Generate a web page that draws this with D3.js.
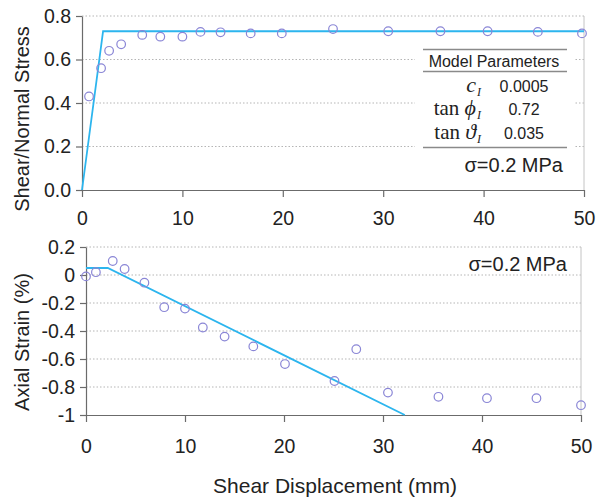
<!DOCTYPE html>
<html>
<head>
<meta charset="utf-8">
<script src="https://cdn.jsdelivr.net/npm/d3@7/dist/d3.min.js"></script>
<style>
  html, body { margin: 0; padding: 0; background: #fff; }
  svg { display: block; font-family: "Liberation Sans", Arial, sans-serif; }
</style>
</head>
<body>
<svg id="chart" width="601" height="500"></svg>
<script>
// Measured shear test: shear displacement (mm) vs stress ratio and axial strain
const stressDisp = [0.7, 1.9, 2.7, 3.9, 6.0, 7.8, 10.0, 11.8, 13.8, 16.8, 19.9, 25.0, 30.5, 35.7, 40.4, 45.4, 49.8];
const stressRatio = [0.43, 0.56, 0.64, 0.67, 0.713, 0.705, 0.705, 0.727, 0.725, 0.72, 0.72, 0.74, 0.73, 0.73, 0.73, 0.727, 0.72];

const strainDisp = [0.0, 1.0, 2.7, 3.9, 5.9, 7.9, 10.0, 11.8, 14.0, 16.9, 20.1, 25.1, 27.3, 30.5, 35.6, 40.5, 45.5, 50.0];
const axialStrain = [-0.01, 0.02, 0.10, 0.043, -0.055, -0.23, -0.24, -0.375, -0.44, -0.51, -0.636, -0.757, -0.53, -0.84, -0.87, -0.88, -0.88, -0.93];

// Model curves (piecewise linear)
const modelStressX = [0, 2.1, 50];
const modelStressY = [0, 0.73, 0.73];
const modelStrainX = [0, 2.2, 32.2];
const modelStrainY = [0.05, 0.05, -1.0];

const xTicks = [0, 10, 20, 30, 40, 50];
const stressTicks = [0.0, 0.2, 0.4, 0.6, 0.8];
const strainTicks = [0.2, 0, -0.2, -0.4, -0.6, -0.8, -1];

const params = [
  { sym: "c", pre: "", value: "0.0005" },
  { sym: "\u03d5", pre: "tan ", value: "0.72" },
  { sym: "\u03d1", pre: "tan ", value: "0.035" }
];

const lineColor = "#2cb5ee";
const dotColor = "#8a86d6";
const axisColor = "#6b6b6b";
const gridColor = "#b5b5b5";
const textColor = "#222";

const svg = d3.select("#chart");

function panel(opts) {
  const g = svg.append("g");
  const x = d3.scaleLinear().domain([0, 50]).range([opts.x0, opts.x1]);
  const y = d3.scaleLinear().domain(opts.yDomain).range(opts.yRange);

  // dotted horizontal grid
  g.append("g").selectAll("line")
    .data(opts.yTicks.filter(v => v !== opts.yDomain[0]))
    .join("line")
    .attr("x1", opts.x0).attr("x2", opts.x1)
    .attr("y1", d => y(d)).attr("y2", d => y(d))
    .attr("stroke", gridColor).attr("stroke-width", 1)
    .attr("stroke-dasharray", "1.5,2");

  // right frame
  g.append("line")
    .attr("x1", opts.x1).attr("x2", opts.x1)
    .attr("y1", y(opts.yDomain[1])).attr("y2", y(opts.yDomain[0]))
    .attr("stroke", "#c4c4c4").attr("stroke-width", 1);

  if (opts.beforeMarks) opts.beforeMarks(g, x, y);

  // axes
  const yAxis = d3.axisLeft(y).tickValues(opts.yTicks).tickFormat(opts.yFormat)
    .tickSizeInner(6).tickSizeOuter(0).tickPadding(5);
  const gy = g.append("g").attr("transform", `translate(${opts.x0},0)`).call(yAxis);
  const xAxis = d3.axisBottom(x).tickValues(xTicks).tickFormat(d3.format("d"))
    .tickSizeInner(7).tickSizeOuter(0).tickPadding(opts.xPad);
  const gx = g.append("g").attr("transform", `translate(0,${y(opts.yDomain[0])})`).call(xAxis);
  [gx, gy].forEach(a => {
    a.select(".domain").attr("stroke", axisColor).attr("stroke-width", 1.2);
    a.selectAll(".tick line").attr("stroke", axisColor).attr("stroke-width", 1.2);
    a.selectAll(".tick text").attr("fill", textColor)
      .style("font-size", opts.tickFont + "px")
      .style("font-family", "'Liberation Sans', Arial, sans-serif");
  });

  // model line
  const line = d3.line().x(d => x(d[0])).y(d => y(d[1]));
  g.append("path")
    .datum(opts.lineX.map((v, i) => [v, opts.lineY[i]]))
    .attr("d", line)
    .attr("fill", "none").attr("stroke", lineColor).attr("stroke-width", 1.8);

  // measured points
  g.append("g").selectAll("circle")
    .data(opts.ptX.map((v, i) => [v, opts.ptY[i]]))
    .join("circle")
    .attr("cx", d => x(d[0])).attr("cy", d => y(d[1])).attr("r", 4.3)
    .attr("fill", "none").attr("stroke", dotColor).attr("stroke-width", 1.2);

  // y title
  g.append("text")
    .attr("transform", `translate(${opts.titleX},${opts.titleY}) rotate(-90)`)
    .attr("text-anchor", "middle")
    .attr("fill", textColor)
    .style("font-size", "20px")
    .text(opts.yTitle);

  return { g, x, y };
}

// Upper panel: stress ratio
const upper = panel({
  x0: 82, x1: 584, yDomain: [0, 0.8], yRange: [190, 16],
  yTicks: stressTicks, yFormat: d3.format(".1f"),
  xPad: 14, tickFont: 19.5,
  lineX: modelStressX, lineY: modelStressY,
  ptX: stressDisp, ptY: stressRatio,
  yTitle: "Shear/Normal Stress", titleX: 29, titleY: 119,
  beforeMarks: (g) => {
    // parameter table backdrop
    g.append("rect").attr("x", 415).attr("y", 44).attr("width", 159).attr("height", 136)
      .attr("fill", "#fff");
  }
});

// parameter table
const tbl = upper.g.append("g");
[49.5, 71.5, 147.5].forEach(yy => {
  tbl.append("line").attr("x1", 423).attr("x2", 567).attr("y1", yy).attr("y2", yy)
    .attr("stroke", "#8a8a8a").attr("stroke-width", 1.3);
});
tbl.append("text").attr("x", 494).attr("y", 67).attr("text-anchor", "middle")
  .attr("fill", textColor).style("font-size", "16px").text("Model Parameters");

const rowY = [92, 115, 139];
params.forEach((p, i) => {
  const t = tbl.append("text").attr("x", 476).attr("y", rowY[i]).attr("text-anchor", "end")
    .attr("fill", textColor)
    .style("font-family", "'Liberation Serif', 'DejaVu Serif', serif");
  if (p.pre) t.append("tspan").style("font-size", "21px").text(p.pre);
  t.append("tspan").style("font-size", "22px").style("font-style", "italic").text(p.sym);
  tbl.append("text").attr("x", 477).attr("y", rowY[i] + 4)
    .attr("fill", textColor)
    .style("font-family", "'Liberation Serif', 'DejaVu Serif', serif")
    .style("font-style", "italic").style("font-size", "12px").text("I");
  tbl.append("text").attr("x", 524).attr("y", rowY[i]).attr("text-anchor", "middle")
    .attr("fill", textColor).style("font-size", "16px").text(p.value);
});
tbl.append("text").attr("x", 563).attr("y", 172).attr("text-anchor", "end")
  .attr("fill", textColor).style("font-size", "20px").text("\u03c3=0.2 MPa");

// Lower panel: axial strain
const lower = panel({
  x0: 86, x1: 581, yDomain: [-1, 0.2], yRange: [415, 247],
  yTicks: strainTicks, yFormat: d => d === 0 ? "0" : d3.format(".1f")(d).replace(/\.0$/, "").replace("\u2212", "-"),
  xPad: 17, tickFont: 19.5,
  lineX: modelStrainX, lineY: modelStrainY,
  ptX: strainDisp, ptY: axialStrain,
  yTitle: "Axial Strain (%)", titleX: 29, titleY: 342
});
lower.g.append("text").attr("x", 567).attr("y", 271).attr("text-anchor", "end")
  .attr("fill", textColor).style("font-size", "20px").text("\u03c3=0.2 MPa");

// shared x title
svg.append("text").attr("x", 335).attr("y", 493).attr("text-anchor", "middle")
  .attr("fill", textColor).style("font-size", "21px").text("Shear Displacement (mm)");
</script>
</body>
</html>
